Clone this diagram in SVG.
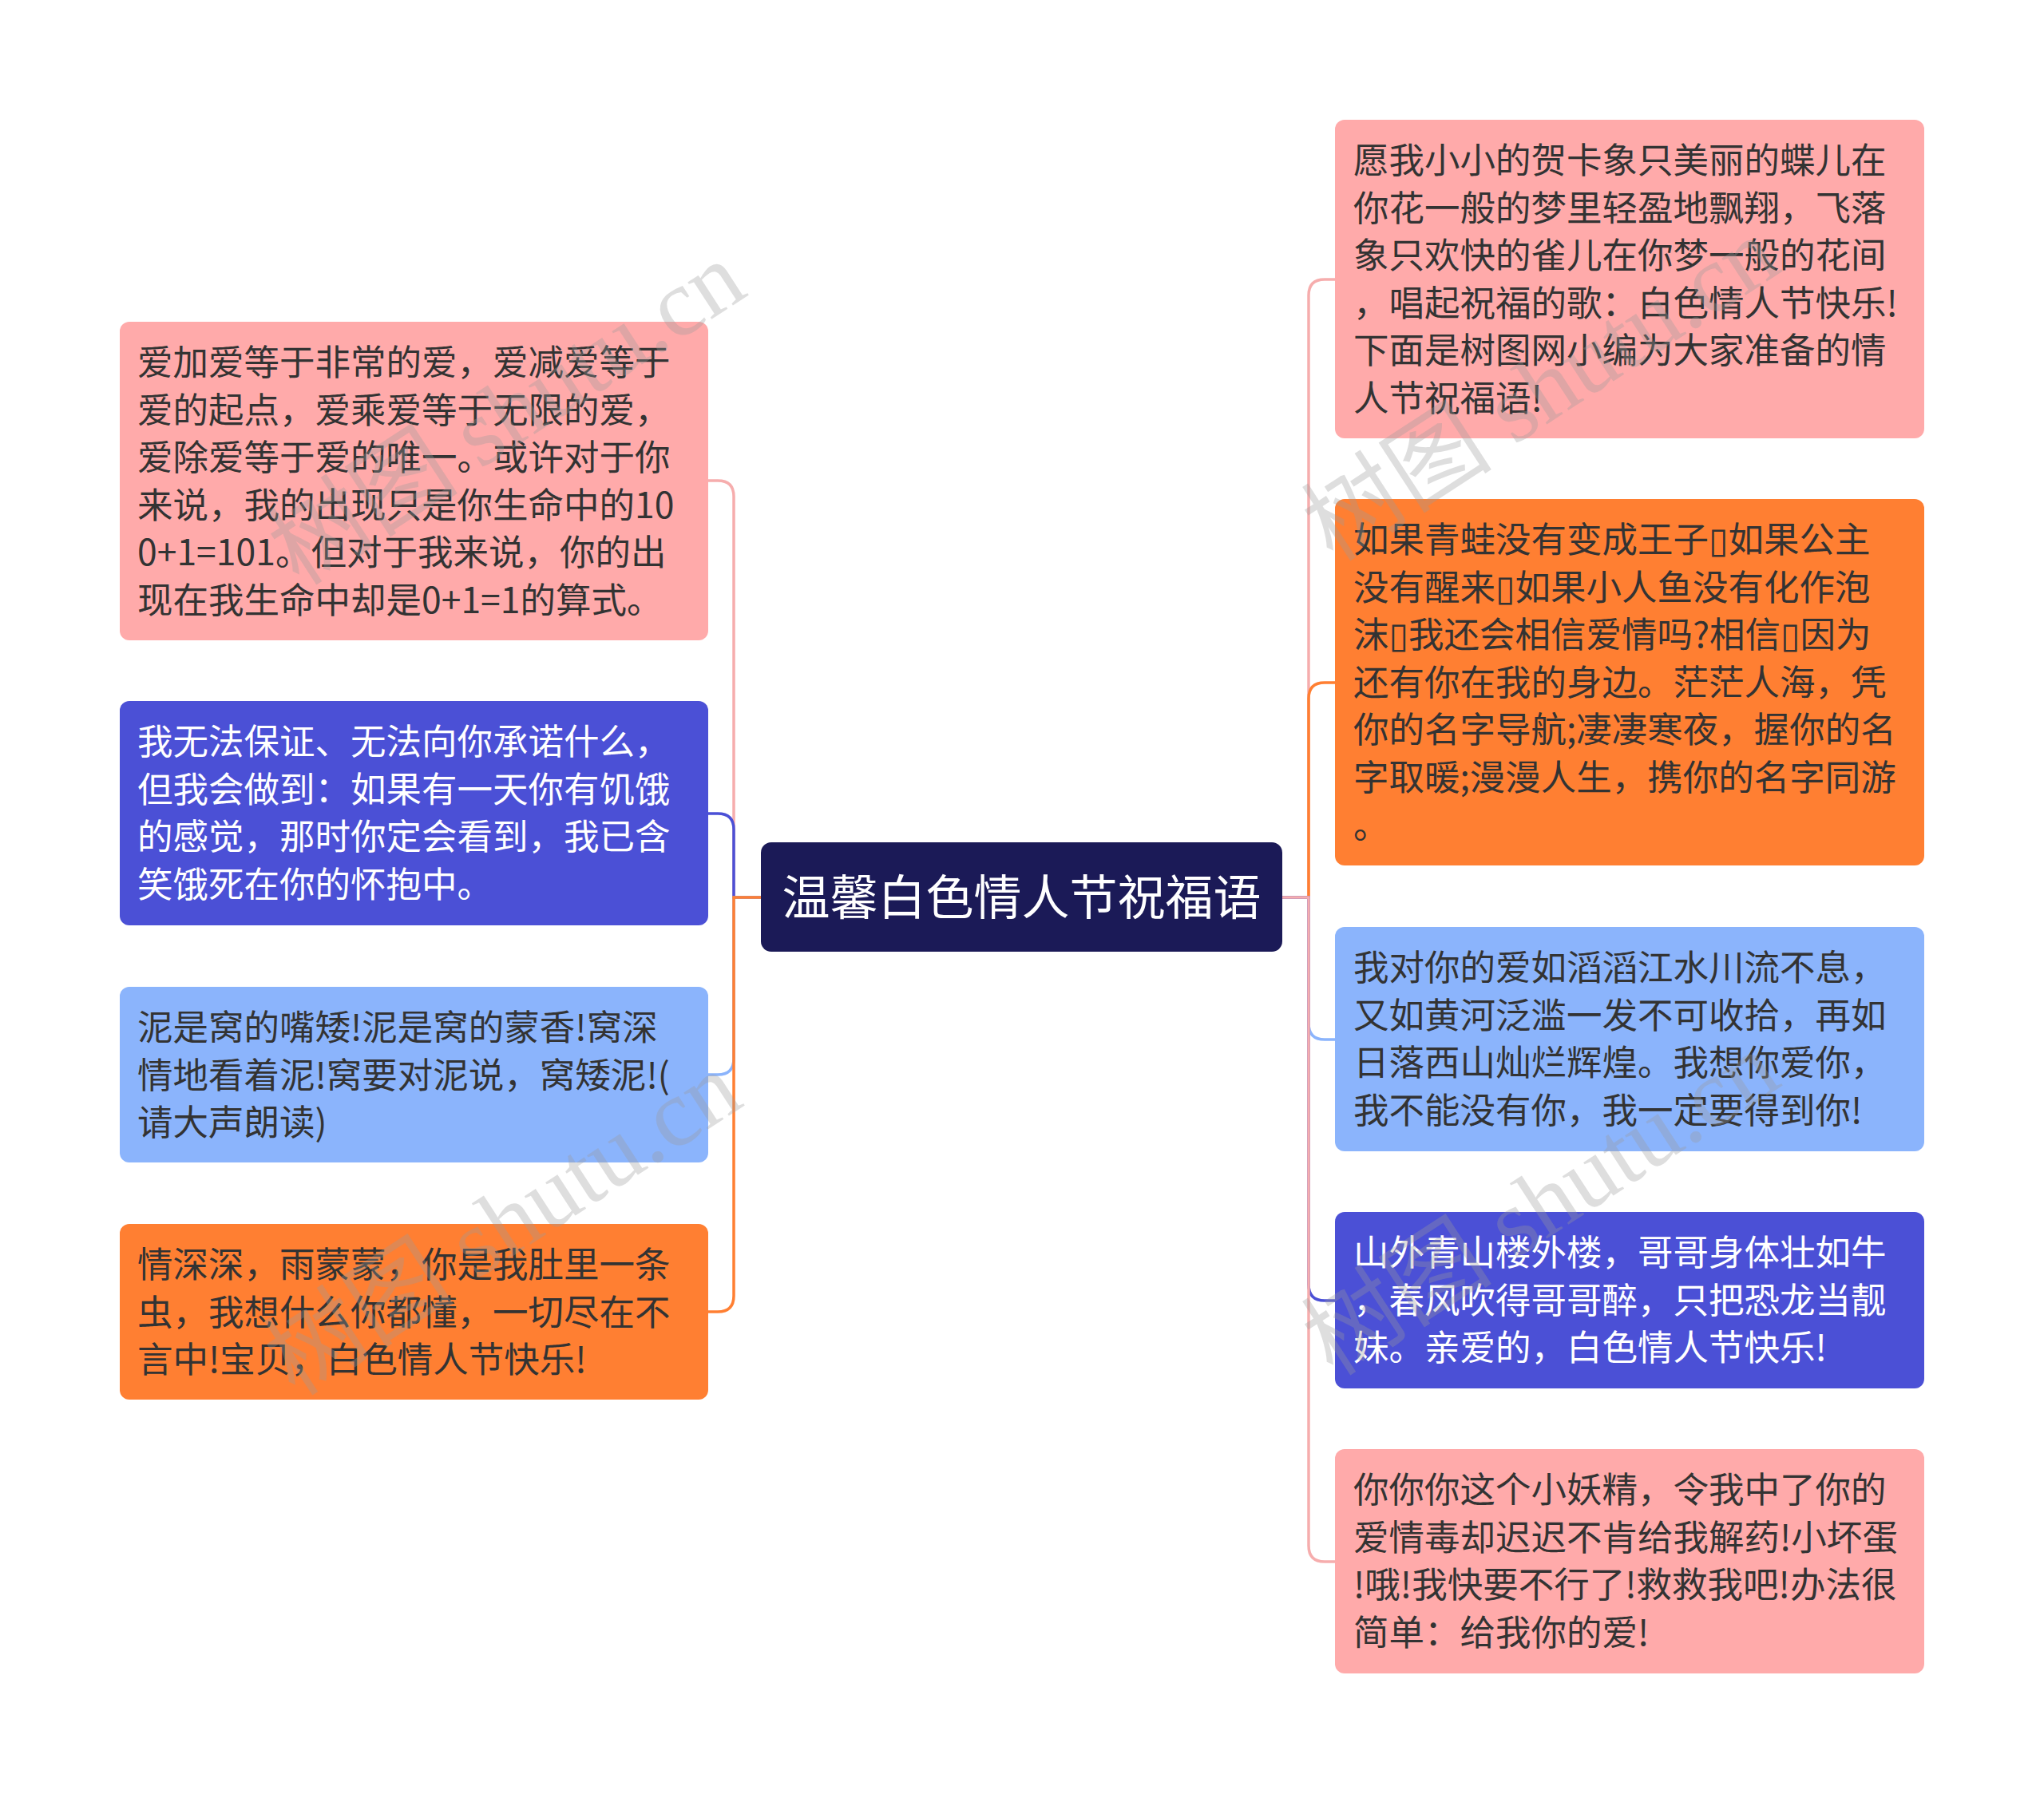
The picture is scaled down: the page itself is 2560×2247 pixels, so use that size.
<svg xmlns="http://www.w3.org/2000/svg" width="2560" height="2247" viewBox="0 0 2560 2247">
<style>
.t{font-family:"Noto Sans CJK SC","DejaVu Sans",sans-serif;font-size:44.5px;}
.dk{fill:#333333;}
.wt{fill:#ffffff;}
.pink{fill:#ffaaaa;}
.blue{fill:#4b50d6;}
.lblue{fill:#8bb4fc;}
.orange{fill:#ff7f32;}
.c{fill:none;stroke-width:3.5;}
.wm{font-family:"Liberation Serif","Noto Sans CJK SC",serif;font-size:120px;fill:#9a9a9a;fill-opacity:0.33;}
</style>
<rect width="2560" height="2247" fill="#ffffff"/>
<g id="connectors">
<path class="c" stroke="#f6adad" d="M953 1124 H919 V622 Q919 602 899 602 H887"/>
<path class="c" stroke="#4b50d6" d="M953 1124 H919 V1039 Q919 1019 899 1019 H887"/>
<path class="c" stroke="#8bb4fc" d="M953 1124 H919 V1326 Q919 1346 899 1346 H887"/>
<path class="c" stroke="#ff7f32" d="M953 1124 H919 V1623 Q919 1643 899 1643 H887"/>
<path class="c" stroke="#f6adad" d="M1606 1124 H1639 V370 Q1639 350 1659 350 H1672"/>
<path class="c" stroke="#ff7f32" d="M1606 1124 H1639 V875 Q1639 855 1659 855 H1672"/>
<path class="c" stroke="#8bb4fc" d="M1606 1124 H1639 V1282 Q1639 1302 1659 1302 H1672"/>
<path class="c" stroke="#4b50d6" d="M1606 1124 H1639 V1609 Q1639 1629 1659 1629 H1672"/>
<path class="c" stroke="#f6adad" d="M1606 1124 H1639 V1936 Q1639 1956 1659 1956 H1672"/>
</g>
<g id="center">
<rect x="953" y="1055" width="653" height="137" rx="13" fill="#1b1a57"/>
<text x="1279.5" y="1146" text-anchor="middle" font-family="Noto Sans CJK SC, sans-serif" font-size="60" fill="#ffffff">温馨白色情人节祝福语</text>
</g>
<g id="L1">
<rect class="pink" x="150" y="403" width="737" height="399" rx="12"/>
<text class="t dk"><tspan x="172" y="470">爱加爱等于非常的爱，爱减爱等于</tspan><tspan x="172" y="529.6">爱的起点，爱乘爱等于无限的爱，</tspan><tspan x="172" y="589.2">爱除爱等于爱的唯一。或许对于你</tspan><tspan x="172" y="648.8">来说，我的出现只是你生命中的10</tspan><tspan x="172" y="708.4">0+1=101。但对于我来说，你的出</tspan><tspan x="172" y="768">现在我生命中却是0+1=1的算式。</tspan></text>
</g>
<g id="L2">
<rect class="blue" x="150" y="878" width="737" height="281" rx="12"/>
<text class="t wt"><tspan x="172" y="945">我无法保证、无法向你承诺什么，</tspan><tspan x="172" y="1004.6">但我会做到：如果有一天你有饥饿</tspan><tspan x="172" y="1064.2">的感觉，那时你定会看到，我已含</tspan><tspan x="172" y="1123.8">笑饿死在你的怀抱中。</tspan></text>
</g>
<g id="L3">
<rect class="lblue" x="150" y="1236" width="737" height="220" rx="12"/>
<text class="t dk"><tspan x="172" y="1303">泥是窝的嘴矮!泥是窝的蒙香!窝深</tspan><tspan x="172" y="1362.6">情地看着泥!窝要对泥说，窝矮泥!(</tspan><tspan x="172" y="1422.2">请大声朗读)</tspan></text>
</g>
<g id="L4">
<rect class="orange" x="150" y="1533" width="737" height="220" rx="12"/>
<text class="t dk"><tspan x="172" y="1600">情深深，雨蒙蒙，你是我肚里一条</tspan><tspan x="172" y="1659.6">虫，我想什么你都懂，一切尽在不</tspan><tspan x="172" y="1719.2">言中!宝贝，白色情人节快乐!</tspan></text>
</g>
<g id="R1">
<rect class="pink" x="1672" y="150" width="738" height="399" rx="12"/>
<text class="t dk"><tspan x="1695" y="217">愿我小小的贺卡象只美丽的蝶儿在</tspan><tspan x="1695" y="276.6">你花一般的梦里轻盈地飘翔，飞落</tspan><tspan x="1695" y="336.2">象只欢快的雀儿在你梦一般的花间</tspan><tspan x="1695" y="395.8">，唱起祝福的歌：白色情人节快乐!</tspan><tspan x="1695" y="455.4">下面是树图网小编为大家准备的情</tspan><tspan x="1695" y="515">人节祝福语!</tspan></text>
</g>
<g id="R2">
<rect class="orange" x="1672" y="625" width="738" height="459" rx="12"/>
<text class="t dk"><tspan x="1695" y="692">如果青蛙没有变成王子▯如果公主</tspan><tspan x="1695" y="751.6">没有醒来▯如果小人鱼没有化作泡</tspan><tspan x="1695" y="811.2">沫▯我还会相信爱情吗?相信▯因为</tspan><tspan x="1695" y="870.8">还有你在我的身边。茫茫人海，凭</tspan><tspan x="1695" y="930.4">你的名字导航;凄凄寒夜，握你的名</tspan><tspan x="1695" y="990">字取暖;漫漫人生，携你的名字同游</tspan><tspan x="1695" y="1049.6">。</tspan></text>
</g>
<g id="R3">
<rect class="lblue" x="1672" y="1161" width="738" height="281" rx="12"/>
<text class="t dk"><tspan x="1695" y="1228">我对你的爱如滔滔江水川流不息，</tspan><tspan x="1695" y="1287.6">又如黄河泛滥一发不可收拾，再如</tspan><tspan x="1695" y="1347.2">日落西山灿烂辉煌。我想你爱你，</tspan><tspan x="1695" y="1406.8">我不能没有你，我一定要得到你!</tspan></text>
</g>
<g id="R4">
<rect class="blue" x="1672" y="1518" width="738" height="221" rx="12"/>
<text class="t wt"><tspan x="1695" y="1585">山外青山楼外楼，哥哥身体壮如牛</tspan><tspan x="1695" y="1644.6">，春风吹得哥哥醉，只把恐龙当靓</tspan><tspan x="1695" y="1704.2">妹。亲爱的，白色情人节快乐!</tspan></text>
</g>
<g id="R5">
<rect class="pink" x="1672" y="1815" width="738" height="281" rx="12"/>
<text class="t dk"><tspan x="1695" y="1882">你你你这个小妖精，令我中了你的</tspan><tspan x="1695" y="1941.6">爱情毒却迟迟不肯给我解药!小坏蛋</tspan><tspan x="1695" y="2001.2">!哦!我快要不行了!救救我吧!办法很</tspan><tspan x="1695" y="2060.8">简单：给我你的爱!</tspan></text>
</g>
<g id="watermarks">
<text class="wm" text-anchor="middle" transform="translate(657 552) rotate(-33)">树图 shutu.cn</text>
<text class="wm" text-anchor="middle" transform="translate(652 1567) rotate(-33)">树图 shutu.cn</text>
<text class="wm" text-anchor="middle" transform="translate(1952 522) rotate(-33)">树图 shutu.cn</text>
<text class="wm" text-anchor="middle" transform="translate(1952 1542) rotate(-33)">树图 shutu.cn</text>
</g>
</svg>
